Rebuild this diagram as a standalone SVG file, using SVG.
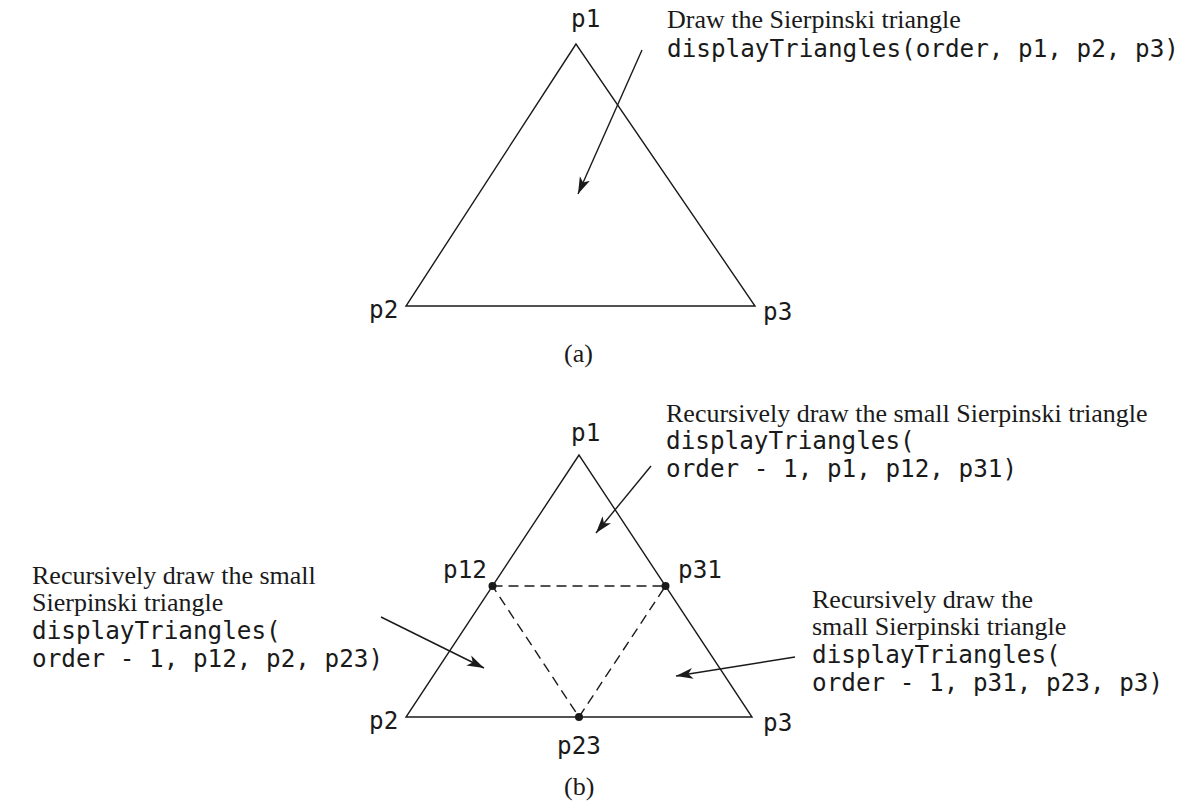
<svg xmlns="http://www.w3.org/2000/svg" width="1198" height="808" viewBox="0 0 1198 808">
<style>
.edge{fill:none;stroke:#1a1a1a;stroke-width:1.4}
.dash{fill:none;stroke:#1a1a1a;stroke-width:1.4;stroke-dasharray:10 6}
.arr{fill:none;stroke:#1a1a1a;stroke-width:1.4;marker-end:url(#ah)}
.serif{font-family:"Liberation Serif","Times New Roman",serif;font-size:26px;fill:#1a1a1a}
.mono{font-family:"DejaVu Sans Mono","Liberation Mono",monospace;font-size:24.3px;fill:#1a1a1a}
.dot{fill:#1a1a1a}
</style>
<defs>
<marker id="ah" markerWidth="18" markerHeight="12" refX="17" refY="6" orient="auto" markerUnits="userSpaceOnUse">
<path d="M0,0.5 L17,6 L0,11.5 L4.5,6 Z" fill="#1a1a1a"/>
</marker>
</defs>
<rect width="1198" height="808" fill="#ffffff"/>

<g id="triangle-a">
<polygon class="edge" points="576,44 406,306 755,306"/>
<text class="mono" x="571" y="27">p1</text>
<text class="mono" x="369" y="318">p2</text>
<text class="mono" x="763" y="320">p3</text>
</g>
<g id="note-a">
<text class="serif" x="667" y="28">Draw the Sierpinski triangle</text>
<text class="mono" x="667" y="57">displayTriangles(order, p1, p2, p3)</text>
</g>
<text class="serif" x="564" y="362">(a)</text>

<g id="triangle-b">
<polygon class="edge" points="579,455 406,717 752,717"/>
<polyline class="dash" points="492.5,586 665.5,586 579,717 492.5,586"/>
<circle class="dot" cx="492.5" cy="586" r="4"/>
<circle class="dot" cx="665.5" cy="586" r="4"/>
<circle class="dot" cx="579" cy="717" r="4"/>
<text class="mono" x="571" y="441">p1</text>
<text class="mono" x="443" y="578">p12</text>
<text class="mono" x="678" y="578">p31</text>
<text class="mono" x="369" y="729">p2</text>
<text class="mono" x="763" y="731">p3</text>
<text class="mono" x="557" y="754">p23</text>
</g>
<g id="note-top">
<text class="serif" x="666" y="422">Recursively draw the small Sierpinski triangle</text>
<text class="mono" x="666" y="449">displayTriangles(</text>
<text class="mono" x="666" y="477">order - 1, p1, p12, p31)</text>
</g>
<g id="note-left">
<text class="serif" x="32" y="584">Recursively draw the small</text>
<text class="serif" x="32" y="611">Sierpinski triangle</text>
<text class="mono" x="32" y="639">displayTriangles(</text>
<text class="mono" x="32" y="667">order - 1, p12, p2, p23)</text>
</g>
<g id="note-right">
<text class="serif" x="812" y="608">Recursively draw the</text>
<text class="serif" x="812" y="635">small Sierpinski triangle</text>
<text class="mono" x="812" y="663">displayTriangles(</text>
<text class="mono" x="812" y="691">order - 1, p31, p23, p3)</text>
</g>
<text class="serif" x="564" y="795">(b)</text>

<g id="connectors">
<line class="arr" x1="642" y1="50" x2="578" y2="194"/>
<line class="arr" x1="651" y1="466" x2="596" y2="533"/>
<line class="arr" x1="381" y1="617" x2="484" y2="668"/>
<line class="arr" x1="795" y1="657" x2="676" y2="676"/>
</g>
</svg>
